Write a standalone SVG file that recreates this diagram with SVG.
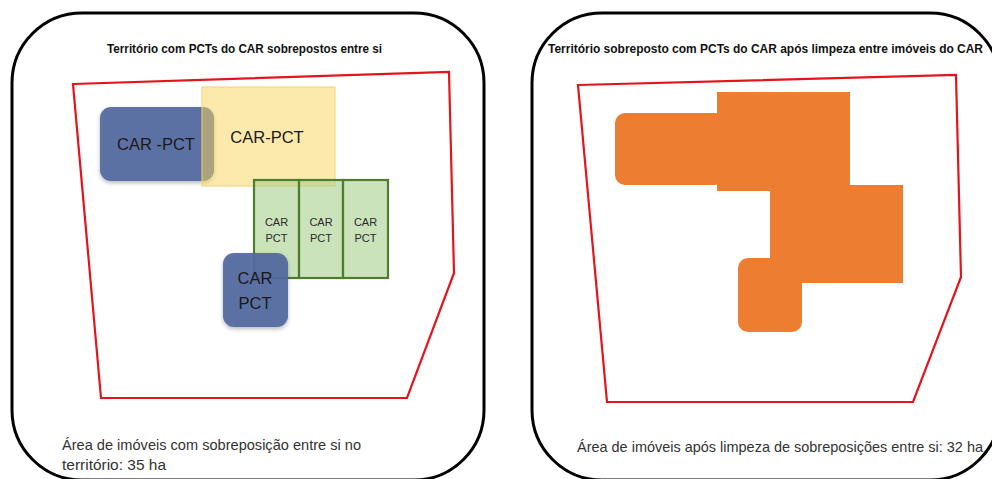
<svg xmlns="http://www.w3.org/2000/svg" width="992" height="479" viewBox="0 0 992 479">
<defs>
<style>
.panel{fill:#fff;stroke:#000;stroke-width:3}
.terr{fill:none;stroke:#e3141c;stroke-width:2.2;stroke-linejoin:miter}
.title{font-family:"Liberation Sans",Arial,sans-serif;font-weight:bold;font-size:12px;fill:#111}
.foot{font-family:"Liberation Sans",Arial,sans-serif;font-size:14.5px;fill:#333}
.lbl{font-family:"Liberation Sans",Arial,sans-serif;font-size:16.5px;fill:#1a1a1a;text-anchor:middle}
.sm{font-family:"Liberation Sans",Arial,sans-serif;font-size:11px;fill:#2a2a2a;text-anchor:middle}
.blue{fill:#52699e;fill-opacity:0.92}
.yellow{fill:#f8d558;fill-opacity:0.5;stroke:#f2d36e;stroke-width:1}
.green{fill:#a9d18e;fill-opacity:0.6;stroke:#4f7d30;stroke-width:2.2}
.orange{fill:#ed7d31}
</style>
<filter id="sh" x="-20%" y="-20%" width="140%" height="140%">
<feGaussianBlur in="SourceAlpha" stdDeviation="2"/>
<feOffset dx="0" dy="1.5" result="b"/>
<feComponentTransfer><feFuncA type="linear" slope="0.3"/></feComponentTransfer>
<feMerge><feMergeNode/><feMergeNode in="SourceGraphic"/></feMerge>
</filter>
</defs>
<rect width="992" height="479" fill="#fff"/>

<g id="panel-left">
<rect class="panel" x="12" y="13" width="472" height="467" rx="70" ry="70"/>
<text class="title" x="107" y="53" textLength="275" lengthAdjust="spacingAndGlyphs">Território com PCTs do CAR sobrepostos entre si</text>
<polygon id="territory-left" class="terr" points="73,84 449,72 454,273 407,398 101,398"/>
<text class="foot" x="62" y="450" textLength="299" lengthAdjust="spacingAndGlyphs">Área de imóveis com sobreposição entre si no</text>
<text class="foot" x="62" y="470" textLength="104" lengthAdjust="spacingAndGlyphs">território: 35 ha</text>
</g>

<g id="car-pct-blue-1">
<rect class="blue" x="100" y="107" width="114" height="74" rx="11" filter="url(#sh)"/>
<text class="lbl" x="156" y="150">CAR -PCT</text>
</g>
<g id="car-pct-yellow">
<rect class="yellow" x="202" y="87" width="133" height="99"/>
<text class="lbl" x="267" y="143">CAR-PCT</text>
</g>
<g id="car-pct-green-1">
<rect class="green" x="254" y="180" width="45" height="98"/>
<text class="sm" x="276.5" y="226">CAR</text>
<text class="sm" x="276.5" y="242">PCT</text>
</g>
<g id="car-pct-green-2">
<rect class="green" x="299" y="180" width="44" height="98"/>
<text class="sm" x="321" y="226">CAR</text>
<text class="sm" x="321" y="242">PCT</text>
</g>
<g id="car-pct-green-3">
<rect class="green" x="343" y="180" width="45" height="98"/>
<text class="sm" x="365.5" y="226">CAR</text>
<text class="sm" x="365.5" y="242">PCT</text>
</g>
<g id="car-pct-blue-2">
<rect class="blue" x="223" y="253" width="65" height="74" rx="11" filter="url(#sh)" fill-opacity="0.88"/>
<text class="lbl" x="255" y="284">CAR</text>
<text class="lbl" x="255" y="309">PCT</text>
</g>

<g id="panel-right">
<rect class="panel" x="532" y="13" width="468" height="467" rx="70" ry="70"/>
<text class="title" x="548" y="53" textLength="435" lengthAdjust="spacingAndGlyphs">Território sobreposto com PCTs do CAR após limpeza entre imóveis do CAR</text>
<polygon id="territory-right" class="terr" points="578,85 956,75 961,277 913,402 607,402"/>
<text class="foot" x="577" y="452" textLength="406" lengthAdjust="spacingAndGlyphs">Área de imóveis após limpeza de sobreposições entre si: 32 ha</text>
</g>

<g id="cleaned-area">
<rect class="orange" x="615" y="113" width="110" height="72" rx="10"/>
<rect class="orange" x="717" y="92" width="133" height="99"/>
<rect class="orange" x="770" y="185" width="133" height="98"/>
<rect class="orange" x="738" y="258" width="64" height="74" rx="10"/>
</g>

<g id="connectors"></g>
</svg>
